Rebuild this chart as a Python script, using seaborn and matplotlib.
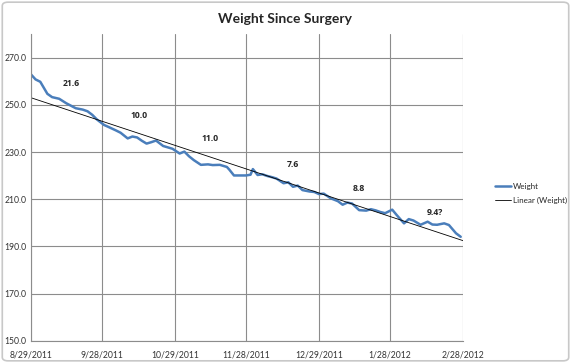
import matplotlib
matplotlib.use("Agg")
import matplotlib.pyplot as plt
import seaborn as sns
import numpy as np
import pandas as pd
from matplotlib.patches import FancyBboxPatch

# ---- data ----
START = pd.Timestamp("2011-08-29")
days = [0, 2, 4, 7, 9, 12, 15, 19, 22, 24, 26, 28, 31, 33, 36, 38, 41, 43, 45, 47,
        49, 51, 53, 56, 58, 60, 63, 65, 67, 69, 72, 75, 77, 80, 83, 84, 86, 89, 91,
        93, 94, 96, 98, 100, 102, 104, 107, 109, 111, 113, 115, 118, 120, 122, 124,
        127, 130, 132, 134, 136, 139, 142, 144, 146, 148, 150, 153, 155, 158, 160,
        162, 165, 168, 170, 172, 175, 177, 180, 182]
weight = [263.0, 260.8, 259.8, 254.7, 253.3, 252.6, 250.7, 248.6, 248.0, 247.3,
          245.8, 243.8, 241.5, 240.6, 239.2, 238.2, 235.8, 236.6, 236.2, 234.8,
          233.6, 234.2, 234.9, 232.6, 232.0, 231.4, 229.4, 230.2, 228.2, 226.6,
          224.6, 224.8, 224.5, 224.6, 223.7, 222.6, 220.1, 220.1, 220.1, 220.4,
          222.8, 220.3, 220.6, 219.9, 219.4, 218.8, 216.8, 217.2, 215.3, 215.8,
          213.9, 213.3, 213.1, 212.2, 212.4, 210.4, 209.2, 207.7, 208.6, 208.2,
          205.4, 205.2, 205.8, 205.3, 204.6, 204.1, 205.6, 203.2, 199.8, 201.6,
          201.0, 199.2, 200.5, 199.3, 199.2, 199.8, 199.1, 195.6, 194.1]

note_labels = ["21.6", "10.0", "11.0", "7.6", "8.8", "9.4?"]
note_days = [17, 46, 76, 111, 139, 171]
note_vals = [259.0, 245.5, 235.8, 224.8, 214.7, 204.5]

tick_dates = ["2011-08-29", "2011-09-28", "2011-10-29", "2011-11-28",
              "2011-12-29", "2012-01-28", "2012-02-28"]
tick_labels = ["8/29/2011", "9/28/2011", "10/29/2011", "11/28/2011",
               "12/29/2011", "1/28/2012", "2/28/2012"]
y_ticks = [150, 170, 190, 210, 230, 250, 270]

df = pd.DataFrame({"date": START + pd.to_timedelta(days, unit="D"), "Weight": weight})

# linear trend like Excel's "Linear (Weight)"
coef = np.polyfit(days, weight, 1)
trend_days = np.array([0, 183])
trend = pd.DataFrame({"date": START + pd.to_timedelta(trend_days, unit="D"),
                      "val": np.polyval(coef, trend_days)})

sns.set_style("white")
plt.rcParams["font.family"] = ["Lato", "DejaVu Sans"]

fig = plt.figure(figsize=(5.71, 3.63), dpi=100)
fig.patches.append(FancyBboxPatch((0.004, 0.006), 0.992, 0.988,
                                  boxstyle="round,pad=0,rounding_size=0.01",
                                  transform=fig.transFigure, fill=False,
                                  edgecolor="#c8c8c8", linewidth=1.2))
ax = fig.add_axes([0.054, 0.061, 0.757, 0.845])

sns.lineplot(data=df, x="date", y="Weight", ax=ax, color="#4a7ebb",
             linewidth=1.8, label="Weight")
sns.lineplot(data=trend, x="date", y="val", ax=ax, color="black",
             linewidth=0.6, label="Linear (Weight)")

for lab, d, v in zip(note_labels, note_days, note_vals):
    ax.text(START + pd.Timedelta(days=d), v, lab, fontsize=6.2,
            fontweight="bold", family=["Open Sans", "DejaVu Sans"],
            ha="center", va="center")

xt = pd.to_datetime(tick_dates)
ax.set_xticks(xt)
ax.set_xticklabels(tick_labels, fontsize=6.2, color="#333333")
ax.set_xlim(xt[0], xt[-1])
ax.set_ylim(150, 280)
ax.set_yticks(y_ticks)
ax.set_yticklabels([f"{v:.1f}" for v in y_ticks], fontsize=6.2, color="#333333")
ax.grid(True, color="#8c8c8c", linewidth=0.8)
ax.tick_params(axis="y", length=0, pad=3)
ax.tick_params(axis="x", length=0, pad=7)
ax.set_xlabel("")
ax.set_ylabel("")
for s in ["top", "right"]:
    ax.spines[s].set_visible(False)
for s in ["left", "bottom"]:
    ax.spines[s].set_color("#8c8c8c")
    ax.spines[s].set_linewidth(0.8)

ax.legend(loc="center left", bbox_to_anchor=(1.074, 0.48), frameon=False,
          fontsize=5.8, handlelength=2.0, handletextpad=0.2, labelspacing=0.8,
          borderaxespad=0, borderpad=0)

fig.suptitle("Weight Since Surgery", fontsize=10, fontweight="bold", y=0.965)

fig.savefig("out.png", dpi=100)
